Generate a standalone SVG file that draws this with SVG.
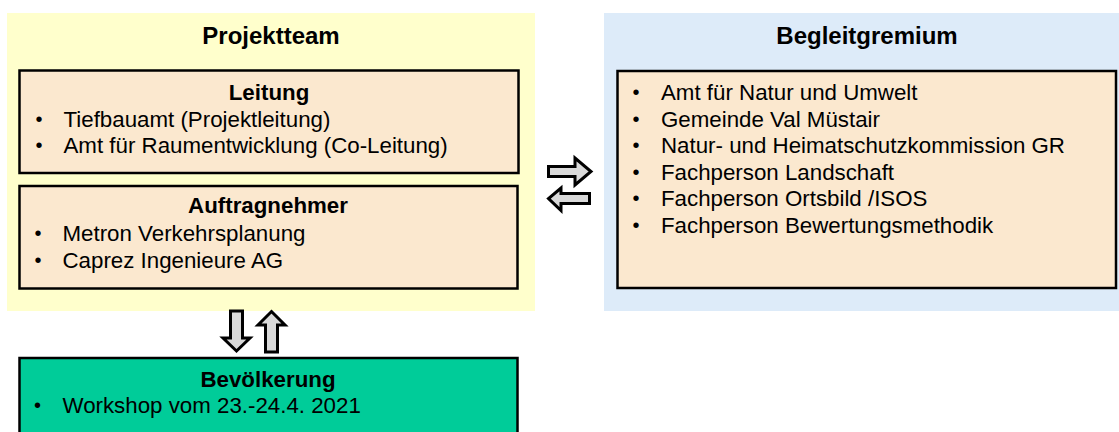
<svg xmlns="http://www.w3.org/2000/svg" width="1119" height="432" viewBox="0 0 1119 432">
<style>
.t{font-family:"Liberation Sans",Arial,sans-serif;font-size:22.3px;fill:#000}
.b{font-weight:bold}
.d{font-family:"Liberation Sans",Arial,sans-serif;font-size:20px;fill:#000}
.h{font-family:"Liberation Sans",Arial,sans-serif;font-size:24px;font-weight:bold;fill:#000}
.box{stroke:#000;stroke-width:2.5}
.peach{fill:#FBE8CF}
.arr{fill:#D9D9D9;stroke:#000;stroke-width:3;stroke-linejoin:miter}
</style>
<rect width="1119" height="432" fill="#fff"/>
<g id="projektteam">
<rect x="7" y="13" width="528" height="298" fill="#FFFFCC"/>
<text class="h" x="271" y="44" text-anchor="middle">Projektteam</text>
</g>
<g id="leitung">
<rect class="box peach" x="19.5" y="70.5" width="499" height="102.5"/>
<text class="t b" x="269" y="100" text-anchor="middle">Leitung</text>
<text class="d" x="35.5" y="126">•</text><text class="t" x="63.5" y="127">Tiefbauamt (Projektleitung)</text>
<text class="d" x="35.5" y="152">•</text><text class="t" x="63.5" y="153">Amt für Raumentwicklung (Co-Leitung)</text>
</g>
<g id="auftragnehmer">
<rect class="box peach" x="19.5" y="186" width="498" height="102.5"/>
<text class="t b" x="268" y="213" text-anchor="middle">Auftragnehmer</text>
<text class="d" x="34.5" y="240">•</text><text class="t" x="62.5" y="241">Metron Verkehrsplanung</text>
<text class="d" x="34.5" y="267">•</text><text class="t" x="62.5" y="268">Caprez Ingenieure AG</text>
</g>
<g id="begleitgremium">
<rect x="604" y="13" width="515" height="298" fill="#DDEBF9"/>
<text class="h" x="867" y="44" text-anchor="middle">Begleitgremium</text>
<rect class="box peach" x="617.5" y="71" width="498.5" height="217"/>
<text class="d" x="632.5" y="99">•</text><text class="t" x="661" y="100">Amt für Natur und Umwelt</text>
<text class="d" x="632.5" y="125.5">•</text><text class="t" x="661" y="126.5">Gemeinde Val Müstair</text>
<text class="d" x="632.5" y="152">•</text><text class="t" x="661" y="153">Natur- und Heimatschutzkommission GR</text>
<text class="d" x="632.5" y="178.5">•</text><text class="t" x="661" y="179.5">Fachperson Landschaft</text>
<text class="d" x="632.5" y="205">•</text><text class="t" x="661" y="206">Fachperson Ortsbild /ISOS</text>
<text class="d" x="632.5" y="231.5">•</text><text class="t" x="661" y="232.5">Fachperson Bewertungsmethodik</text>
</g>
<g id="bevoelkerung">
<rect class="box" x="19.5" y="358" width="498" height="90" fill="#00CC99"/>
<text class="t b" x="268" y="387" text-anchor="middle">Bevölkerung</text>
<text class="d" x="34" y="412">•</text><text class="t" x="62.5" y="413">Workshop vom 23.-24.4. 2021</text>
</g>
<g id="connectors">
<path class="arr" d="M548.5,166.5 H575 V158 L591,171.5 L575,185 V176.5 H548.5 Z"/>
<path class="arr" d="M589.5,193.5 H561 V188 L548.5,198.5 L561,210.5 V203.5 H589.5 Z"/>
<path class="arr" d="M230.5,311 V338 H223 L236.5,351 L250,338 H242.5 V311 Z"/>
<path class="arr" d="M265.5,352 V325 H258 L271.5,311.5 L285,325 H277.5 V352 Z"/>
</g>
</svg>
